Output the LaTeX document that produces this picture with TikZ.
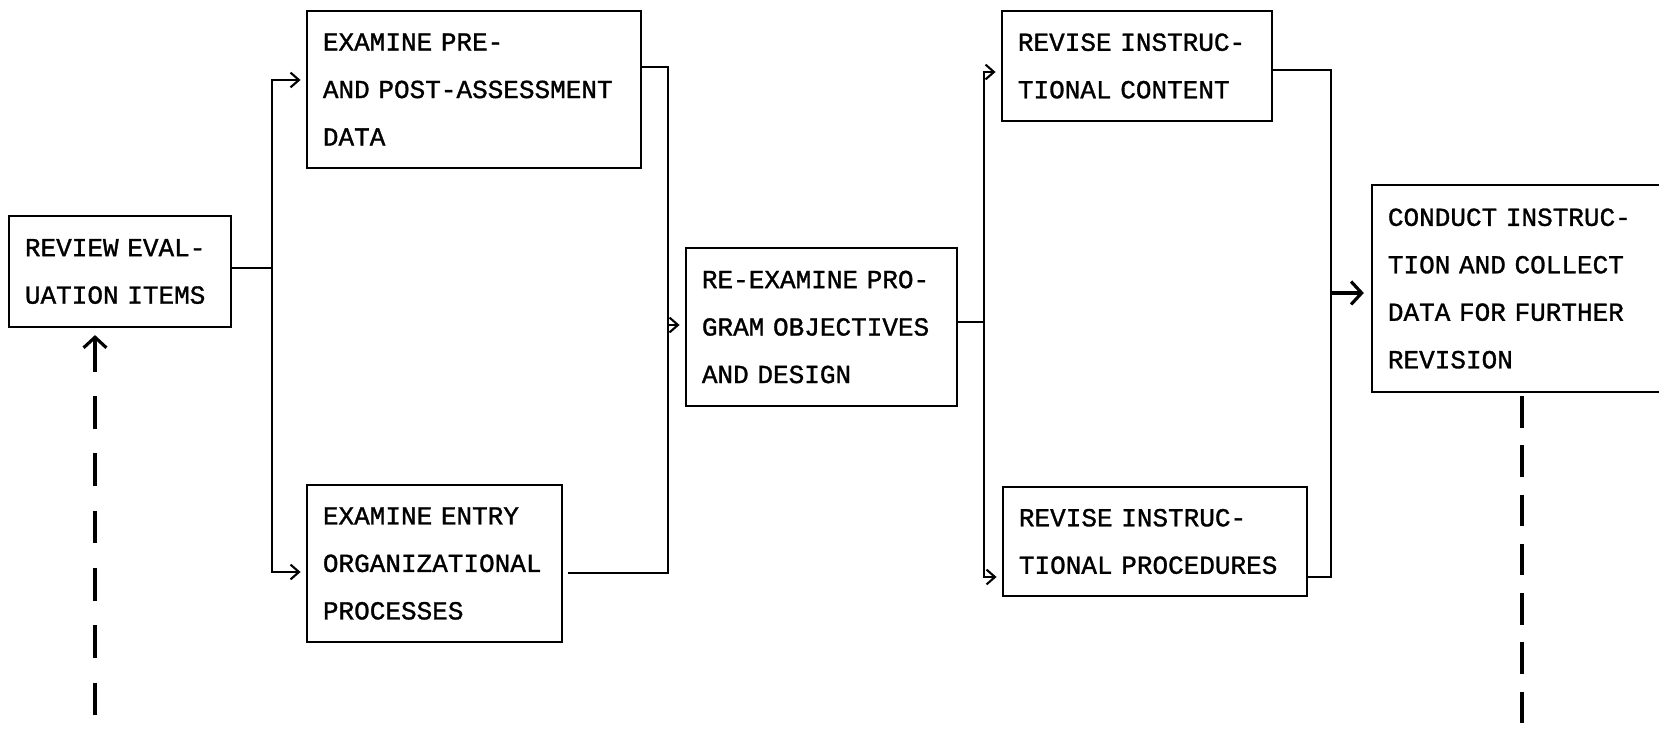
\documentclass[tikz,border=0pt]{standalone}
\usepackage{fontspec}
\newfontfamily\typed{Liberation Mono}[FakeBold=1.2]
\usepackage{tikz}
\usetikzlibrary{arrows.meta, positioning}

\begin{document}
\begin{tikzpicture}[
        x=0.01cm, y=-0.01cm,
        box/.style={draw, line width=0.6pt, align=left, inner xsep=0.16cm,
                    inner ysep=1pt,
                    font=\typed\fontsize{7.4pt}{13.5pt}\selectfont},
        line/.style={line width=0.6pt},
        arr/.style={-{Straight Barb[length=2.4pt,width=4.2pt]}, line width=0.6pt,
                    shorten >=1.5pt},
        bigarr/.style={-{Straight Barb[length=3pt,width=6.5pt]}, line width=0.9pt,
                       shorten >=2pt},
        loopline/.style={line width=0.9pt, dash pattern=on 9.3pt off 7pt}
      ]
      \useasboundingbox (0,0) rectangle (1659,734);
      \clip (0,0) rectangle (1659,734);

      \node[box, text width=1.90cm, minimum height=1.11cm] (review) at (120,271.5)
        {REVIEW EVAL-\\UATION ITEMS};
      \node[box, text width=3.02cm, minimum height=1.57cm] (pre) at (474,89.5)
        {EXAMINE PRE-\\AND POST-ASSESSMENT\\DATA};
      \node[box, text width=2.23cm, minimum height=1.57cm] (entry) at (434.5,563.5)
        {EXAMINE ENTRY\\ORGANIZATIONAL\\PROCESSES};
      \node[box, text width=2.39cm, minimum height=1.58cm] (reex) at (821.5,327)
        {RE-EXAMINE PRO-\\GRAM OBJECTIVES\\AND DESIGN};
      \node[box, text width=2.38cm, minimum height=1.10cm] (content) at (1137,66)
        {REVISE INSTRUC-\\TIONAL CONTENT};
      \node[box, text width=2.72cm, minimum height=1.09cm] (proc) at (1155,541.5)
        {REVISE INSTRUC-\\TIONAL PROCEDURES};
      \node[box, text width=2.68cm, minimum height=2.07cm] (conduct) at (1522,288.5)
        {CONDUCT INSTRUC-\\TION AND COLLECT\\DATA FOR FURTHER\\REVISION};

      % ports
      \coordinate (review-out)  at ([yshift=.035cm]review.east);
      \coordinate (pre-in)      at ([yshift=.095cm]pre.west);
      \coordinate (entry-in)    at ([yshift=-.085cm]entry.west);
      \coordinate (pre-out)     at ([yshift=.225cm]pre.east);
      \coordinate (entry-out)   at ([yshift=-.095cm]entry.east);
      \coordinate (reex-in)     at ([yshift=.02cm]reex.west);
      \coordinate (reex-out)    at ([yshift=.05cm]reex.east);
      \coordinate (content-in)  at ([yshift=-.06cm]content.west);
      \coordinate (proc-in)     at ([yshift=-.355cm]proc.west);
      \coordinate (content-out) at ([yshift=-.04cm]content.east);
      \coordinate (proc-out)    at ([yshift=-.355cm]proc.east);
      \coordinate (conduct-in)  at ([yshift=-.045cm]conduct.west);
      \coordinate (fb-bottom)   at (95,734);
      \coordinate (next-bottom) at (conduct.south |- fb-bottom);

      % review -> both examine boxes
      \draw[line] (review-out) -- ++(40,0) coordinate (fork1);
      \draw[arr] (fork1) |- (pre-in);
      \draw[arr] (fork1) |- (entry-in);

      % both examine boxes -> re-examine
      \draw[line] (pre-out) -- ++(26,0) coordinate (join1)
        -- (join1 |- entry-out) -- ([xshift=.05cm]entry-out);
      \draw[arr] (join1 |- reex-in) -- (reex-in);

      % re-examine -> both revise boxes
      \draw[line] (reex-out) -- ++(26,0) coordinate (fork2);
      \draw[arr] (fork2) |- (content-in);
      \draw[arr] (fork2) |- (proc-in);

      % both revise boxes -> conduct
      \draw[line] (content-out) -- ++(58,0) coordinate (join2)
        -- (join2 |- proc-out) -- (proc-out);
      \draw[bigarr] (join2 |- conduct-in) -- (conduct-in);

      % dashed loop ends
      \draw[loopline, {Straight Barb[length=3pt,width=6.5pt]}-]
        ([yshift=-.07cm]review.south -| fb-bottom) -- (fb-bottom);
      \draw[line width=0.9pt, dash pattern=on 9pt off 5pt]
        ([yshift=-.03cm]conduct.south) -- (next-bottom);
    \end{tikzpicture}
\end{document}
